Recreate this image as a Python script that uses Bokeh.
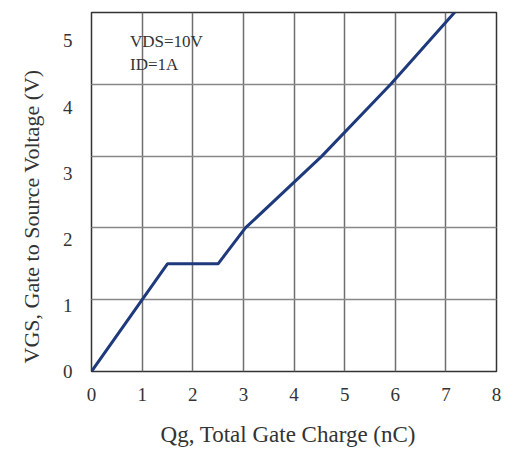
from bokeh.plotting import figure
from bokeh.models import Range1d, FixedTicker, Label, LinearAxis, Grid, Title
from bokeh.embed import file_html
from bokeh.resources import INLINE

# Data
qg_nc = [0.0, 1.5, 2.5, 3.04, 4.55, 5.91, 7.17, 7.25]
vgs_v = [0.0, 1.5, 1.5, 2.0, 3.0, 4.0, 5.0, 5.06]
x_ticks = [0, 1, 2, 3, 4, 5, 6, 7, 8]
y_ticks = [0, 1, 2, 3, 4, 5]
note_lines = ["VDS=10V", "ID=1A"]

FONT = "Liberation Serif"
TXT = "#333333"

p = figure(width=503, height=449, output_backend="svg", toolbar_location=None,
           x_range=Range1d(0, 8), y_range=Range1d(0, 5), y_axis_location=None,
           min_border_left=88, min_border_right=7, min_border_top=12, min_border_bottom=78)

# the reference's y tick labels sit on a slightly compressed scale
p.extra_y_ranges = {"lab": Range1d(0, 5.43)}
yax = LinearAxis(y_range_name="lab", ticker=FixedTicker(ticks=y_ticks))
p.add_layout(yax, "left")
p.add_layout(Grid(dimension=1, ticker=FixedTicker(ticks=y_ticks),
                  grid_line_color="#888888", grid_line_width=1.5))

p.line(qg_nc, vgs_v, line_color="#1f3a7c", line_width=3)

p.xaxis.ticker = FixedTicker(ticks=x_ticks)
for ax in (p.xaxis[0], yax):
    ax.major_tick_line_color = None
    ax.minor_tick_line_color = None
    ax.axis_line_color = None
    ax.major_label_text_font = FONT
    ax.major_label_text_font_size = "19px"
    ax.major_label_text_color = TXT
    ax.axis_label_text_font = FONT
    ax.axis_label_text_font_style = "normal"
    ax.axis_label_text_color = TXT

p.xaxis.axis_label = "Qg, Total  Gate  Charge (nC)"
p.xaxis.axis_label_text_font_size = "23px"
p.xaxis.major_label_standoff = 10
p.xaxis.axis_label_standoff = 18
yax.major_label_standoff = 13

p.add_layout(Title(text="VGS, Gate to Source Voltage (V)", align="left", offset=8,
                   standoff=32, text_font=FONT, text_font_size="22px",
                   text_font_style="normal", text_color=TXT), "left")

p.xgrid.grid_line_color = "#6f6f6f"
p.xgrid.grid_line_width = 1.5

p.outline_line_color = "#333333"
p.outline_line_width = 1.5
p.background_fill_color = "white"
p.border_fill_color = "white"

for i, t in enumerate(note_lines):
    p.add_layout(Label(x=0.76, y=4.59 - 0.32 * i, text=t, text_font=FONT,
                       text_font_size="17px", text_color=TXT,
                       text_baseline="middle"))

open("out.html", "w").write(file_html(p, INLINE))
